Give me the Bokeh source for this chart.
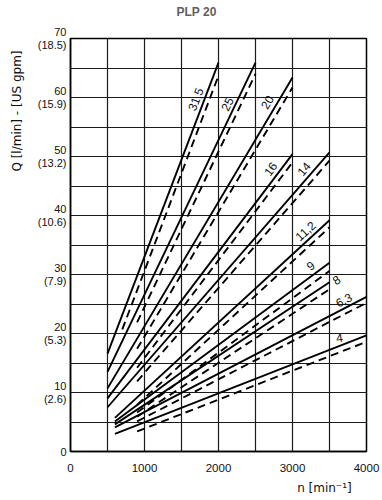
from bokeh.plotting import figure
from bokeh.models import Range1d, FixedTicker, ColumnDataSource, Title
from bokeh.core.properties import value
from bokeh.embed import file_html
from bokeh.resources import INLINE
import math

# ---- data ----
sizes = ["31,5", "25", "20", "16", "14", "11,2", "9", "8", "6,3", "4"]
solid_n0 = [500, 500, 500, 500, 500, 600, 600, 600, 600, 600]
solid_q0 = [16.6, 13.5, 10.7, 9.0, 7.5, 5.7, 5.1, 4.6, 4.1, 3.0]
solid_n1 = [2000, 2500, 3000, 3000, 3500, 3500, 3500, 3500, 4000, 4000]
solid_q1 = [65.9, 65.9, 63.4, 50.4, 50.7, 39.2, 32.0, 28.7, 26.2, 19.7]
dash_n0 = [700, 900, 900, 900, 900, 900, 900, 900, 900, 900]
dash_q0 = [20.7, 21.9, 17.4, 14.2, 11.9, 7.9, 6.6, 5.9, 5.1, 3.4]
dash_n1 = [2000, 2500, 3000, 3000, 3500, 3500, 3500, 3500, 4000, 4000]
dash_q1 = [63.7, 64.0, 61.7, 49.0, 49.3, 38.0, 30.6, 27.5, 25.2, 18.6]

y_ticks = [0, 10, 20, 30, 40, 50, 60, 70]
y_tick_labels = ["0", "10\n(2.6)", "20\n(5.3)", "30\n(7.9)", "40\n(10.6)",
                 "50\n(13.2)", "60\n(15.9)", "70\n(18.5)"]
x_ticks = [0, 1000, 2000, 3000, 4000]
x_tick_labels = ["0", "1000", "2000", "3000", "4000"]

# label placement (layout)
lab_n = [1689, 2117, 2657, 2702, 3152, 3175, 3243, 3594, 3693, 3635]
lab_q = [59.7, 58.9, 59.2, 47.9, 47.9, 37.4, 31.5, 29.1, 25.7, 19.3]
lab_deg = [69, 64.5, 59, 54, 50, 42, 36, 33, 27, 8]

FONT = "Liberation Sans"
WIDE = "DejaVu Sans"

p = figure(width=382, height=500, output_backend="svg", toolbar_location=None,
           x_range=Range1d(0, 4000), y_range=Range1d(0, 70),
           min_border_left=70, min_border_right=16, min_border_top=38,
           min_border_bottom=49,
           title=Title(text="PLP 20\n ", text_font=FONT, text_font_style="bold",
                       text_font_size="12px", text_color="#5f5f5f",
                       align="left", offset=106, vertical_align="top",
                       standoff=8))
p.outline_line_color = "black"
p.outline_line_width = 1.5
p.background_fill_color = "white"
p.border_fill_color = "white"

p.xaxis.ticker = FixedTicker(ticks=x_ticks)
p.xaxis.major_label_overrides = dict(zip(x_ticks, x_tick_labels))
p.yaxis.ticker = FixedTicker(ticks=y_ticks)
p.yaxis.major_label_overrides = dict(zip(y_ticks, y_tick_labels))
for ax in (p.xaxis[0], p.yaxis[0]):
    ax.major_tick_in = 0
    ax.major_tick_out = 0
    ax.minor_tick_in = 0
    ax.minor_tick_out = 0
    ax.axis_line_color = "black"
    ax.axis_line_width = 1.5
    ax.major_label_text_font = FONT
    ax.major_label_text_color = "#111111"
p.xaxis.major_label_text_font_size = "11.5px"
p.xaxis.major_label_standoff = 12
p.yaxis.major_label_text_font_size = "11px"
p.yaxis.major_label_text_align = "center"
p.yaxis.major_label_text_line_height = 1.05
p.yaxis.major_label_standoff = 4

p.xgrid.ticker = FixedTicker(ticks=list(range(0, 4001, 500)))
p.ygrid.ticker = FixedTicker(ticks=list(range(0, 71, 5)))
for g in (p.xgrid[0], p.ygrid[0]):
    g.grid_line_color = "#1a1a1a"
    g.grid_line_width = 1.2
    g.grid_line_alpha = 1.0

p.segment(x0=solid_n0, y0=solid_q0, x1=solid_n1, y1=solid_q1,
          line_color="black", line_width=1.9)
p.segment(x0=dash_n0, y0=dash_q0, x1=dash_n1, y1=dash_q1,
          line_color="black", line_width=1.9, line_dash="8 5")

src = ColumnDataSource(dict(x=lab_n, y=lab_q, t=sizes,
                            a=[math.radians(d) for d in lab_deg]))
p.text(x="x", y="y", text="t", angle="a", source=src,
       text_font=value(FONT), text_font_size="12px", text_color="#111111",
       text_align="center", text_baseline="middle")

# y axis label on the left
p.add_layout(Title(text="Q [l/min] - [US gpm]", text_font=WIDE,
                   text_font_style="normal",
                   text_font_size="12px", text_color="#111111",
                   align="right", offset=12, vertical_align="top", standoff=18),
             "left")

# x axis label
p.add_layout(Title(text="n  [min\u207b\u00b9]", text_font=WIDE,
                   text_font_style="normal",
                   text_font_size="12px", text_color="#111111",
                   align="right", offset=11, vertical_align="bottom", standoff=8),
             "below")

open("out.html", "w").write(file_html(p, INLINE))
